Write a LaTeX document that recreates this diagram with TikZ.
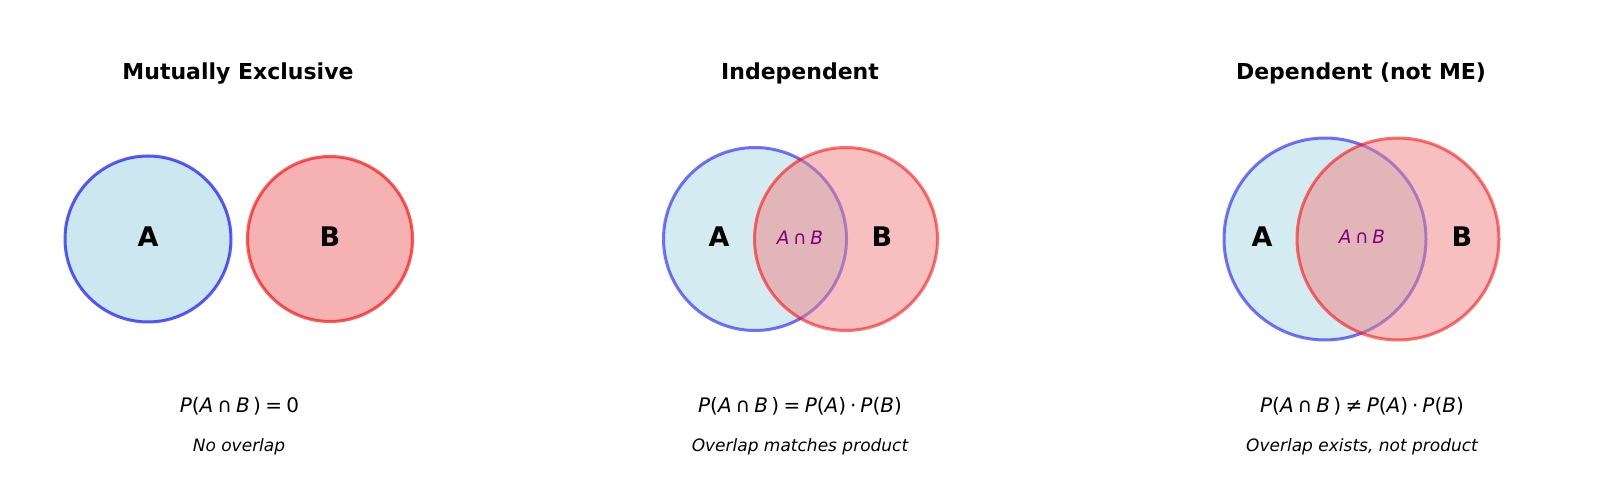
\documentclass[tikz,border=0pt]{standalone}
\usepackage{fontspec}
\setmainfont{DejaVu Sans}
\definecolor{lb}{RGB}{173,216,230}
\definecolor{lc}{RGB}{240,128,128}
\definecolor{eb}{RGB}{0,0,255}
\definecolor{er}{RGB}{255,0,0}
\definecolor{purp}{RGB}{128,0,128}
\newcommand{\mi}[1]{\textit{#1}}
\newcommand{\bop}{\hspace{0.2em}}
\newcommand{\rel}{\hspace{0.22em}}
\tikzset{
  venn/.style={circle, inner sep=0pt, line width=3pt},
  setA1/.style={venn, draw=eb, fill=lb, fill opacity=0.6, draw opacity=0.65},
  setB1/.style={venn, draw=er, fill=lc, fill opacity=0.6, draw opacity=0.65},
  setA/.style={venn, draw=eb, fill=lb, fill opacity=0.5, draw opacity=0.55},
  setB/.style={venn, draw=er, fill=lc, fill opacity=0.5, draw opacity=0.55},
  title/.style={anchor=base, inner sep=0pt, font=\fontsize{22}{26}\selectfont\bfseries},
  setlab/.style={anchor=base, inner sep=0pt, font=\fontsize{27}{31}\selectfont\bfseries},
  inter/.style={anchor=base, inner sep=0pt, text=purp, font=\fontsize{18.5}{22}\selectfont},
  formula/.style={anchor=base, inner sep=0pt, font=\fontsize{20}{24}\selectfont},
  note/.style={anchor=base, inner sep=0pt, font=\fontsize{17}{20}\selectfont\itshape},
}
\begin{document}
\begin{tikzpicture}[x=1pt,y=-1pt]
\useasboundingbox[fill=white] (0,0) rectangle (1600,478);
% Panel 1
\node[title] (t1) at (238,79.5) {Mutually Exclusive};
\node[setA1, minimum size=166pt] (A1) at (148,239) {};
\node[setB1, minimum size=165pt] (B1) at (330,239) {};
\node[setlab] (la1) at (148,247) {A};
\node[setlab] (lb1) at (330,247) {B};
\node[formula] (f1) at (239.5,412.3) {\mi{P}(\mi{A}\bop∩\bop\mi{B}\,)\rel=\rel0};
\node[note] (n1) at (239,451.7) {No overlap};
% Panel 2
\node[title] (t2) at (800,79.5) {Independent};
\node[setA, minimum size=183pt] (A2) at (755,239) {};
\node[setB, minimum size=183pt] (B2) at (846,239) {};
\node[setlab] (la2) at (719,247) {A};
\node[setlab] (lb2) at (882,247) {B};
\node[inter] (i2) at (800,244.3) {\mi{A}\bop∩\bop\mi{B}};
\node[formula] (f2) at (800,412.3) {\mi{P}(\mi{A}\bop∩\bop\mi{B}\,)\rel=\rel\mi{P}(\mi{A})\bop·\bop\mi{P}(\mi{B})};
\node[note] (n2) at (800,451.7) {Overlap matches product};
% Panel 3
\node[title] (t3) at (1361,79.5) {Dependent (not ME)};
\node[setA, minimum size=202pt] (A3) at (1325,239) {};
\node[setB, minimum size=202pt] (B3) at (1398,239) {};
\node[setlab] (la3) at (1262,247) {A};
\node[setlab] (lb3) at (1462,247) {B};
\node[inter] (i3) at (1362,244) {\mi{A}\bop∩\bop\mi{B}};
\node[formula] (f3) at (1362,412.3) {\mi{P}(\mi{A}\bop∩\bop\mi{B}\,)\rel≠\rel\mi{P}(\mi{A})\bop·\bop\mi{P}(\mi{B})};
\node[note] (n3) at (1362,451.7) {Overlap exists, not product};
\end{tikzpicture}
\end{document}
